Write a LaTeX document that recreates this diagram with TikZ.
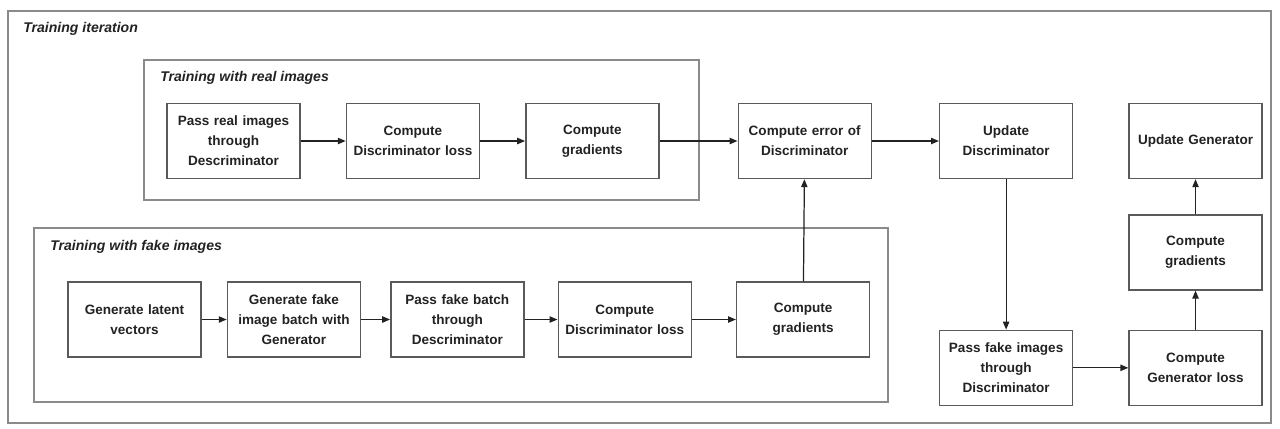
\documentclass[tikz,border=0pt]{standalone}
\usepackage{fontspec}
\setmainfont{Liberation Sans}
\usepackage{xcolor}
\usepackage{tikz}
\usetikzlibrary{positioning,arrows.meta}

\definecolor{framegray}{HTML}{8A8A8A}
\definecolor{boxgray}{HTML}{5A5A5A}
\definecolor{inkdark}{HTML}{222222}

\tikzset{
  stepbox/.style={draw=boxgray, line width=0.8pt, text width=2.6cm, inner xsep=0.03cm, minimum height=1.5cm,
    align=center, text=inkdark, font=\fontsize{7.7}{11.3}\selectfont\bfseries},
  frame/.style={draw=framegray, line width=1pt},
  title/.style={anchor=west, text=inkdark, font=\fontsize{8}{10}\selectfont\bfseries\itshape, inner sep=0pt},
  flow/.style={-{Triangle[length=4.5pt,width=3.6pt]}, draw=inkdark, line width=0.7pt}
}

\begin{document}
\begin{tikzpicture}
    \useasboundingbox (0,0) rectangle (25.6,-8.56);

    % frames
    \draw[frame] (0.16,-0.22) rectangle (25.42,-8.46);
    \draw[frame] (2.88,-1.2) rectangle (13.98,-4.0);
    \draw[frame] (0.68,-4.56) rectangle (17.76,-8.04);
    \node[title] (titer) at (0.46,-0.58) {Training iteration};
    \node[title] (treal) at (3.2,-1.56) {Training with real images};
    \node[title] (tfake) at (1.0,-4.94) {Training with fake images};

    % real images
    \node[stepbox] (pr) at (4.67,-2.82) {Pass real images\\through\\Descriminator};
    \node[stepbox, right=0.9cm of pr] (dl1) {Compute\\Discriminator loss};
    \node[stepbox, right=0.9cm of dl1] (gr1) {Compute\\gradients};
    \node[stepbox, right=1.56cm of gr1] (err) {Compute error of\\Discriminator};
    \node[stepbox, right=1.34cm of err] (upd) {Update\\Discriminator};
    \node[stepbox, right=1.1cm of upd] (ugen) {Update Generator};

    % fake images
    \node[stepbox] (lat) at (2.69,-6.39) {Generate latent\\vectors};
    \node[stepbox, right=0.5cm of lat] (fb) {Generate fake\\image batch with\\Generator};
    \node[stepbox, right=0.58cm of fb] (pfb) {Pass fake batch\\through\\Descriminator};
    \node[stepbox, right=0.66cm of pfb] (dl2) {Compute\\Discriminator loss};
    \node[stepbox, right=0.88cm of dl2] (gr2) {Compute\\gradients};

    % generator
    \node[stepbox, below=0.7cm of ugen] (gr3) {Compute\\gradients};
    \node[stepbox, below=0.78cm of gr3] (gloss) {Compute\\Generator loss};
    \node[stepbox, left=1.1cm of gloss] (pfi) {Pass fake images\\through\\Discriminator};

    \draw[flow] (pr) -- (dl1);
    \draw[flow] (dl1) -- (gr1);
    \draw[flow] (gr1) -- (err);
    \draw[flow] (err) -- (upd);
    \draw[flow] (lat) -- (fb);
    \draw[flow] (fb) -- (pfb);
    \draw[flow] (pfb) -- (dl2);
    \draw[flow] (dl2) -- (gr2);
    \draw[flow] (gr2) -- (err);
    \draw[flow] (upd) -- (pfi);
    \draw[flow] (pfi) -- (gloss);
    \draw[flow] (gloss) -- (gr3);
    \draw[flow] (gr3) -- (ugen);
\end{tikzpicture}
\end{document}
